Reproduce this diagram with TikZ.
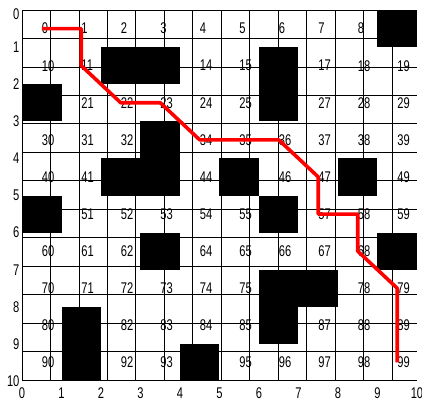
\documentclass[tikz,border=0pt]{standalone}
\usepackage{fontspec}
\newfontfamily\gridfont[FakeStretch=0.72]{Liberation Sans}
\usetikzlibrary{calc}
\tikzset{
	cellnum/.style={anchor=west, inner sep=0pt, font=\gridfont\fontsize{15.5}{16}\selectfont},
	axlabel/.style={inner sep=0pt, font=\gridfont\fontsize{15.5}{16}\selectfont},
	route/.style={red, line width=3.6pt, line join=round},
}

\begin{document}
\begin{tikzpicture}[x=39.5pt,y=-37.1pt]
				\useasboundingbox (-0.557,-0.27) rectangle (10.127,10.647);
				
				% blocked cells
				\foreach \k in {9,12,13,16,20,26,33,42,43,45,48,50,56,63,69,76,77,81,86,91,94}{
					\expandafter\gdef\csname blk\k\endcsname{}
					\pgfmathtruncatemacro{\row}{div(\k,10)}
					\pgfmathtruncatemacro{\col}{mod(\k,10)}
					\fill[black] (\col,\row) rectangle ++(1,1);
				}
				
				\draw[line width=0.7pt] (0,0) grid (10,10);
				
				% cell centres and numbers
				\foreach \r in {0,...,9}{
					\foreach \c in {0,...,9}{
						\pgfmathtruncatemacro{\n}{10*\r+\c}
						\coordinate (p\n) at (\c+0.5,\r+0.5);
						\ifcsname blk\n\endcsname\else
							\node[cellnum] (n\n) at (p\n) {\n};
						\fi
					}
				}
				
				% axes
				\foreach \i in {0,...,10}{
					\node[axlabel, anchor=center] (xl\i) at (\i,10.32) {\i};
				}
				\node[axlabel, anchor=east] (yl0) at (-0.06,0.11) {0};
				\foreach \i in {1,...,10}{
					\node[axlabel, anchor=east] (yl\i) at (-0.06,\i) {\i};
				}
				
				% path found
				\draw[route] (p0) -- (p1) -- (p11) -- (p22) -- (p23) -- (p34) -- (p35) -- (p36)
				-- (p47) -- (p57) -- (p58) -- (p68) -- (p79) -- (p89) -- (p99);
\end{tikzpicture}
\end{document}
